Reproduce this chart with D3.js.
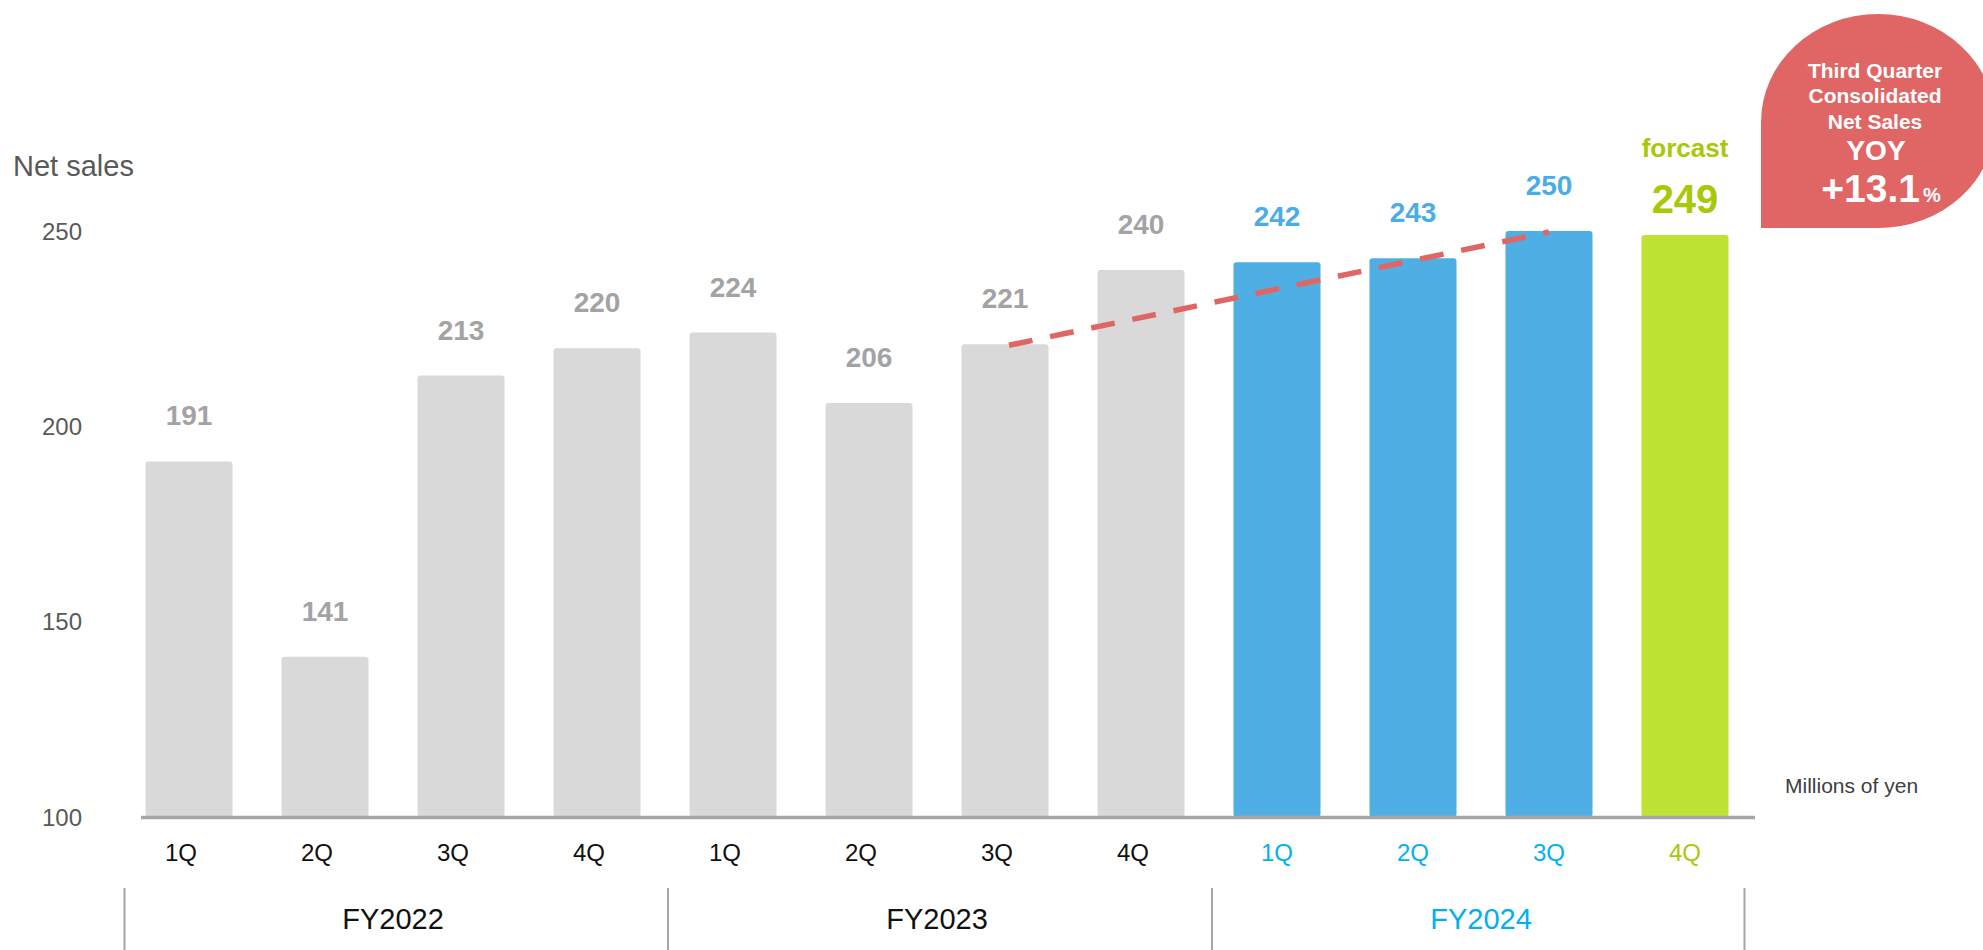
<!DOCTYPE html>
<html>
<head>
<meta charset="utf-8">
<script src="https://cdn.jsdelivr.net/npm/d3@7"></script>
<style>
  html, body { margin: 0; padding: 0; background: #ffffff; }
  svg { display: block; font-family: "Liberation Sans", Arial, sans-serif; }
</style>
</head>
<body>
<svg id="chart" width="1983" height="950"></svg>
<script>
// Quarterly net sales, millions of yen
const fiscalYears = ["FY2022", "FY2023", "FY2024"];
const quarters = ["1Q", "2Q", "3Q", "4Q"];
const netSales = [191, 141, 213, 220, 224, 206, 221, 240, 242, 243, 250, 249];
// "past" = earlier fiscal years, "current" = this year's results, "forecast" = planned
const periodKind = ["past", "past", "past", "past", "past", "past", "past", "past",
                    "current", "current", "current", "forecast"];
const yTicks = [100, 150, 200, 250];
const yoyFrom = 6;   // 3Q FY2023
const yoyTo = 10;    // 3Q FY2024
const yoyLines = ["Third Quarter", "Consolidated", "Net Sales"];
const yoyHeading = "YOY";
const yoyValue = "+13.1";

const colors = {
  bar: { past: "#d9d9d9", current: "#4fafe4", forecast: "#bfe335" },
  value: { past: "#a3a3a3", current: "#4aade6", forecast: "#a8c80a" },
  tick: { past: "#111111", current: "#00b0f0", forecast: "#a8c80a" },
  year: ["#111111", "#111111", "#00b0f0"],
  axisText: "#595959",
  rule: "#a6a6a6",
  accent: "#e06666"
};

const svg = d3.select("#chart");

const periods = netSales.map((v, i) => ({
  id: i,
  year: fiscalYears[Math.floor(i / quarters.length)],
  quarter: quarters[i % quarters.length],
  value: v,
  kind: periodKind[i]
}));

const x = d3.scaleBand()
  .domain(periods.map(d => d.id))
  .range([121, 1753])
  .paddingInner(0.36)
  .paddingOuter(0.18);

const y = d3.scaleLinear().domain([100, 250]).range([817, 231]);

// y-axis tick labels
svg.append("g")
  .selectAll("text")
  .data(yTicks)
  .join("text")
  .attr("x", 82)
  .attr("y", d => y(d))
  .attr("dy", "0.36em")
  .attr("text-anchor", "end")
  .attr("font-size", 24)
  .attr("fill", colors.axisText)
  .text(d => d);

svg.append("text")
  .attr("x", 13).attr("y", 176)
  .attr("font-size", 29)
  .attr("fill", colors.axisText)
  .text("Net sales");

svg.append("text")
  .attr("x", 1785).attr("y", 793)
  .attr("font-size", 21)
  .attr("fill", "#404040")
  .text("Millions of yen");

// bars
svg.append("g")
  .selectAll("rect")
  .data(periods)
  .join("rect")
  .attr("x", d => x(d.id))
  .attr("y", d => y(d.value))
  .attr("width", x.bandwidth())
  .attr("height", d => y(100) - y(d.value))
  .attr("rx", 3)
  .attr("fill", d => colors.bar[d.kind]);

// baseline
svg.append("line")
  .attr("x1", 141).attr("x2", 1755)
  .attr("y1", y(100) + 0.5).attr("y2", y(100) + 0.5)
  .attr("stroke", colors.rule)
  .attr("stroke-width", 3.5);

// value labels
svg.append("g")
  .selectAll("text")
  .data(periods)
  .join("text")
  .attr("x", d => x(d.id) + x.bandwidth() / 2)
  .attr("y", d => y(d.value) - (d.kind === "forecast" ? 22 : 36))
  .attr("text-anchor", "middle")
  .attr("font-weight", "bold")
  .attr("font-size", d => d.kind === "forecast" ? 40 : 28)
  .attr("fill", d => colors.value[d.kind])
  .text(d => d.value);

const fc = periods.find(d => d.kind === "forecast");
svg.append("text")
  .attr("x", x(fc.id) + x.bandwidth() / 2)
  .attr("y", 157)
  .attr("text-anchor", "middle")
  .attr("font-weight", "bold")
  .attr("font-size", 26)
  .attr("fill", colors.value.forecast)
  .text("forcast");

// quarter labels
svg.append("g")
  .selectAll("text")
  .data(periods)
  .join("text")
  .attr("x", d => x(d.id) + x.bandwidth() / 2 - (d.kind === "past" ? 8 : 0))
  .attr("y", 861)
  .attr("text-anchor", "middle")
  .attr("font-size", 24)
  .attr("fill", d => colors.tick[d.kind])
  .text(d => d.quarter);

// fiscal year groups and separators
const groups = fiscalYears.map((fy, g) => {
  const items = periods.filter(d => d.year === fy);
  const left = x(items[0].id);
  const right = x(items[items.length - 1].id) + x.bandwidth();
  return { fy, g, left, right };
});

svg.append("g")
  .selectAll("text")
  .data(groups)
  .join("text")
  .attr("x", d => (d.left + d.right) / 2)
  .attr("y", 929)
  .attr("text-anchor", "middle")
  .attr("font-size", 29)
  .attr("fill", d => colors.year[d.g])
  .text(d => d.fy);

const seps = [groups[0].left - 21]
  .concat(groups.slice(1).map((d, i) => (groups[i].right + d.left) / 2 + 3))
  .concat([groups[groups.length - 1].right + 16]);

svg.append("g")
  .selectAll("line")
  .data(seps)
  .join("line")
  .attr("x1", d => d).attr("x2", d => d)
  .attr("y1", 888).attr("y2", 950)
  .attr("stroke", colors.rule)
  .attr("stroke-width", 2);

// year-over-year comparison line
const pA = periods[yoyFrom], pB = periods[yoyTo];
svg.append("line")
  .attr("x1", x(pA.id) + x.bandwidth() / 2 + 4)
  .attr("y1", y(pA.value) + 1)
  .attr("x2", x(pB.id) + x.bandwidth() / 2)
  .attr("y2", y(pB.value) + 1)
  .attr("stroke", colors.accent)
  .attr("stroke-width", 5.5)
  .attr("stroke-dasharray", "24,18");

// YOY badge
const badge = svg.append("g");
badge.append("path")
  .attr("d", "M1761,228 L1761,122 A117,108 0 0 1 1995,122 A117,106 0 0 1 1878,228 Z")
  .attr("fill", colors.accent);

const bx = 1875;
badge.selectAll("text.line")
  .data(yoyLines)
  .join("text")
  .attr("class", "line")
  .attr("x", bx)
  .attr("y", (d, i) => [78, 103, 129][i])
  .attr("text-anchor", "middle")
  .attr("font-weight", "bold")
  .attr("font-size", 21)
  .attr("fill", "#ffffff")
  .text(d => d);

badge.append("text")
  .attr("x", bx + 1).attr("y", 160)
  .attr("text-anchor", "middle")
  .attr("font-weight", "bold")
  .attr("font-size", 28)
  .attr("fill", "#ffffff")
  .text(yoyHeading);

const pct = badge.append("text")
  .attr("x", 1881).attr("y", 202)
  .attr("text-anchor", "middle")
  .attr("font-weight", "bold")
  .attr("fill", "#ffffff");
pct.append("tspan").attr("font-size", 39).text(yoyValue);
pct.append("tspan").attr("font-size", 20).attr("dx", 3).text("%");
</script>
</body>
</html>
